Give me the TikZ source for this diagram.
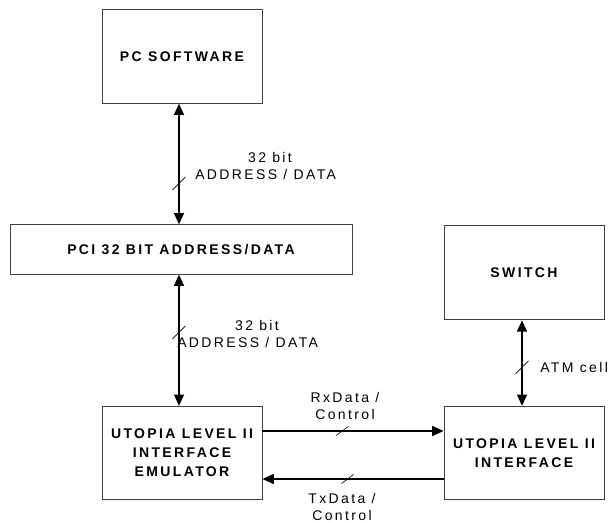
\documentclass[tikz,border=0pt]{standalone}
\usepackage{fontspec}
\setmainfont{Liberation Sans}
\newfontfamily\boxfont[LetterSpace=17]{Liberation Sans Bold}
\newfontfamily\lblfont[LetterSpace=17]{Liberation Sans}
\usetikzlibrary{arrows.meta,calc}
\begin{document}
\begin{tikzpicture}[x=0.75pt,y=-0.75pt,
  block/.style={draw=black!75,line width=0.7pt,fill=white,minimum width=120pt,minimum height=70pt,
    align=center,font=\boxfont\fontsize{10.5pt}{14.2pt}\selectfont,inner sep=0pt},
  link/.style={line width=1.1pt,-{Triangle[width=7.5pt,length=8.5pt]}},
  biglink/.style={line width=1.1pt,{Triangle[width=7.5pt,length=8.5pt]}-{Triangle[width=7.5pt,length=8.5pt]}},
  lbl/.style={font=\lblfont\fontsize{10.5pt}{12.3pt}\selectfont,inner sep=0pt},
  tick/.style={line width=0.5pt}]
\useasboundingbox (0,0) rectangle (610,523);
% blocks
\node[block] (pc) at (182,56.5) {PC SOFTWARE};
\node[block,minimum width=256.5pt,minimum height=37pt] (pci) at (181,249.5) {PCI 32 BIT ADDRESS/DATA};
\node[block,minimum height=71pt] (sw) at (524,272.5) {SWITCH};
\node[block] (emu) at (182,453) {UTOPIA LEVEL II\\INTERFACE\\EMULATOR};
\node[block] (uif) at (524,453) {UTOPIA LEVEL II\\INTERFACE};
% connectors
\draw[biglink] (pc.south -| 179,0) -- (pci.north -| 179,0) coordinate[pos=0.66] (t1);
\draw[biglink] (pci.south -| 179,0) -- (emu.north -| 179,0) coordinate[pos=0.44] (t2);
\draw[biglink] (sw.south -| 522,0) -- (uif.north -| 522,0) coordinate[pos=0.55] (t3);
\draw[link] (emu.east |- 0,431) -- (uif.west |- 0,431) coordinate[pos=0.44] (t4);
\draw[link] (uif.west |- 0,479) -- (emu.east |- 0,479) coordinate[pos=0.53] (t5);
% bus-width ticks
\foreach \t in {t1,t2,t3}
  \draw[tick] ($(\t)+(-6.5,6.5)$) -- ($(\t)+(6.5,-6.5)$);
\foreach \t in {t4,t5}
  \draw[tick] ($(\t)+(-6,4.5)$) -- ($(\t)+(6,-4.5)$);
% labels
\node[lbl] (l1a) at (270,157) {32 bit};
\node[lbl,anchor=west] (l1b) at (195,175) {ADDRESS / DATA};
\node[lbl] (l2a) at (257,325) {32 bit};
\node[lbl,anchor=west] (l2b) at (177,342) {ADDRESS / DATA};
\node[lbl,anchor=west] (l3) at (540,367) {ATM cell};
\node[lbl,align=center] (l4) at (345,406) {RxData /\\Control};
\node[lbl,align=center] (l5) at (342,507) {TxData /\\Control};
\end{tikzpicture}
\end{document}
